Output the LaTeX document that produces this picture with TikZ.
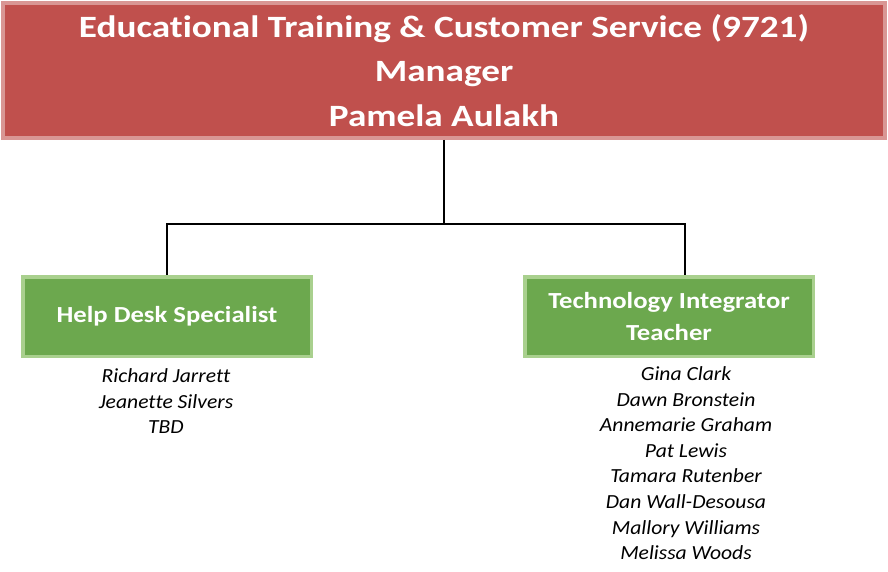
\documentclass[tikz,border=0pt]{standalone}
\usepackage{fontspec}
\setmainfont{Carlito}[Ligatures=NoCommon]
\newfontfamily\headfont{Carlito}[FakeStretch=1.2, Ligatures=NoCommon]
\newfontfamily\rolefont{Carlito}[FakeStretch=1.16, Ligatures=NoCommon]
\newfontfamily\stafffont{Carlito}[FakeStretch=1.08, Ligatures=NoCommon]
\usetikzlibrary{positioning}
\definecolor{headred}{RGB}{192,80,77}
\definecolor{headedge}{RGB}{217,150,148}
\definecolor{rolegreen}{RGB}{108,168,78}
\definecolor{roleedge}{RGB}{169,208,142}

\begin{document}
\begin{tikzpicture}[
    x=1pt, y=-1pt,
    head/.style={draw=headedge, fill=headred, line width=4pt, text=white, align=center, inner sep=0pt,
        font=\headfont\fontsize{31}{44.5}\selectfont\bfseries, minimum width=882pt, minimum height=135pt},
    role/.style={draw=roleedge, fill=rolegreen, line width=3.5pt, text=white, align=center, inner sep=0pt,
        font=\rolefont\fontsize{23}{32}\selectfont\bfseries, minimum width=288.5pt, minimum height=79.5pt},
    staff/.style={align=center, inner sep=0pt, font=\stafffont\fontsize{20}{25.6}\selectfont\itshape},
    link/.style={line width=1.5pt}
]
\useasboundingbox (0,0) rectangle (888,572);
\node[head] (manager) at (444,70.5) {Educational Training \& Customer Service (9721)\\Manager\\Pamela Aulakh};
\node[role] (helpdesk) at (167,316.5) {Help Desk Specialist};
\node[role] (integrator) at (669,316.5) {Technology Integrator\\Teacher};
\node[staff, anchor=north] (helpnames) at (166,368.5) {Richard Jarrett\\Jeanette Silvers\\TBD};
\node[staff, anchor=north] (technames) at (686,366.5) {Gina Clark\\Dawn Bronstein\\Annemarie Graham\\Pat Lewis\\Tamara Rutenber\\Dan Wall-Desousa\\Mallory Williams\\Melissa Woods};
\coordinate (bus) at (444,224);
\coordinate (techdrop) at (685,275);
\draw[link] (manager.south) -- (bus);
\draw[link] (bus) -| (helpdesk.north);
\draw[link] (bus) -| (techdrop);
\end{tikzpicture}
\end{document}
